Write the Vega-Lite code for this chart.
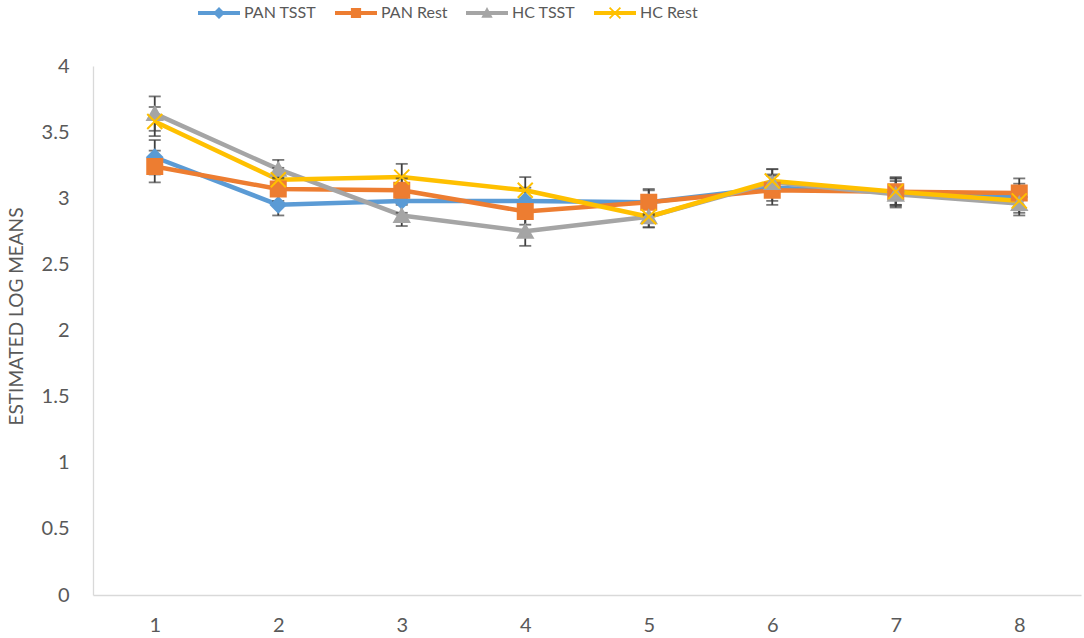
{
  "$schema": "https://vega.github.io/schema/vega-lite/v6.json",
  "width": 988,
  "height": 529,
  "autosize": {"type": "none"},
  "padding": {"left": 93, "top": 66, "right": 3, "bottom": 43},
  "background": "white",
  "config": {
    "view": {"stroke": null},
    "font": "Lato",
    "axis": {"labelFont": "Lato", "titleFont": "Lato", "labelColor": "#595959", "titleColor": "#595959"},
    "legend": {"labelFont": "Lato", "labelFontSize": 16, "labelColor": "#595959"}
  },
  "resolve": {"scale": {"shape": "independent", "color": "independent", "stroke": "independent"}},
  "data": {
    "values": [
      {"t": 1, "s": "PAN TSST", "v": 3.31, "e": 0.13},
      {"t": 2, "s": "PAN TSST", "v": 2.95, "e": 0.08},
      {"t": 3, "s": "PAN TSST", "v": 2.98, "e": 0.09},
      {"t": 4, "s": "PAN TSST", "v": 2.98, "e": 0.10},
      {"t": 5, "s": "PAN TSST", "v": 2.97, "e": 0.09},
      {"t": 6, "s": "PAN TSST", "v": 3.08, "e": 0.10},
      {"t": 7, "s": "PAN TSST", "v": 3.05, "e": 0.10},
      {"t": 8, "s": "PAN TSST", "v": 3.01, "e": 0.10},
      {"t": 1, "s": "PAN Rest", "v": 3.24, "e": 0.12},
      {"t": 2, "s": "PAN Rest", "v": 3.07, "e": 0.09},
      {"t": 3, "s": "PAN Rest", "v": 3.06, "e": 0.09},
      {"t": 4, "s": "PAN Rest", "v": 2.90, "e": 0.10},
      {"t": 5, "s": "PAN Rest", "v": 2.97, "e": 0.10},
      {"t": 6, "s": "PAN Rest", "v": 3.06, "e": 0.11},
      {"t": 7, "s": "PAN Rest", "v": 3.05, "e": 0.11},
      {"t": 8, "s": "PAN Rest", "v": 3.04, "e": 0.11},
      {"t": 1, "s": "HC TSST", "v": 3.64, "e": 0.13},
      {"t": 2, "s": "HC TSST", "v": 3.22, "e": 0.07},
      {"t": 3, "s": "HC TSST", "v": 2.87, "e": 0.08},
      {"t": 4, "s": "HC TSST", "v": 2.75, "e": 0.11},
      {"t": 5, "s": "HC TSST", "v": 2.86, "e": 0.08},
      {"t": 6, "s": "HC TSST", "v": 3.12, "e": 0.10},
      {"t": 7, "s": "HC TSST", "v": 3.03, "e": 0.10},
      {"t": 8, "s": "HC TSST", "v": 2.96, "e": 0.09},
      {"t": 1, "s": "HC Rest", "v": 3.58, "e": 0.11},
      {"t": 2, "s": "HC Rest", "v": 3.14, "e": 0.09},
      {"t": 3, "s": "HC Rest", "v": 3.16, "e": 0.10},
      {"t": 4, "s": "HC Rest", "v": 3.06, "e": 0.10},
      {"t": 5, "s": "HC Rest", "v": 2.86, "e": 0.08},
      {"t": 6, "s": "HC Rest", "v": 3.13, "e": 0.09},
      {"t": 7, "s": "HC Rest", "v": 3.05, "e": 0.10},
      {"t": 8, "s": "HC Rest", "v": 2.98, "e": 0.09}
    ]
  },
  "layer": [
    {
      "mark": {"type": "line", "strokeWidth": 4.5, "strokeJoin": "round", "strokeCap": "butt"},
      "encoding": {
        "x": {
          "field": "t", "type": "ordinal", "title": null,
          "scale": {"type": "point", "padding": 0.5},
          "axis": {"title": null, "labelAngle": 0, "labelFontSize": 20, "labelPadding": 20, "ticks": false, "domainColor": "#d9d9d9", "domainWidth": 1.3, "grid": false}
        },
        "y": {
          "field": "v", "type": "quantitative", "title": "ESTIMATED LOG MEANS",
          "scale": {"domain": [0, 4], "nice": false, "zero": true},
          "axis": {"title": "ESTIMATED LOG MEANS", "titleFontSize": 19, "titleFontWeight": "normal", "titlePadding": 15, "titleY": 250, "values": [0, 0.5, 1, 1.5, 2, 2.5, 3, 3.5, 4], "format": "~g", "labelFontSize": 20, "labelPadding": 24, "ticks": false, "grid": false, "domainColor": "#d9d9d9", "domainWidth": 1.3}
        },
        "color": {
          "field": "s", "type": "nominal",
          "scale": {"domain": ["PAN TSST", "PAN Rest", "HC TSST", "HC Rest"], "range": ["#5B9BD5", "#ED7D31", "#A5A5A5", "#FFC000"]},
          "legend": null
        }
      }
    },
    {
      "mark": {"type": "errorbar", "ticks": {"size": 12}, "color": "#404040", "thickness": 1.8},
      "encoding": {
        "x": {"field": "t", "type": "ordinal", "title": null},
        "y": {"field": "v", "type": "quantitative", "title": "ESTIMATED LOG MEANS"},
        "yError": {"field": "e"},
        "detail": {"field": "s", "type": "nominal"}
      }
    },
    {
      "mark": {"type": "point", "filled": true, "opacity": 1, "size": 225, "strokeWidth": 2},
      "encoding": {
        "x": {"field": "t", "type": "ordinal", "title": null},
        "y": {"field": "v", "type": "quantitative", "title": "ESTIMATED LOG MEANS"},
        "color": {
          "field": "s", "type": "nominal",
          "scale": {"domain": ["PAN TSST", "PAN Rest", "HC TSST", "HC Rest"], "range": ["#5B9BD5", "#ED7D31", "#A5A5A5", "#FFC000"]},
          "legend": null
        },
        "stroke": {
          "field": "s", "type": "nominal",
          "scale": {"domain": ["PAN TSST", "PAN Rest", "HC TSST", "HC Rest"], "range": ["#5B9BD5", "#ED7D31", "#A5A5A5", "#FFC000"]},
          "legend": null
        },
        "shape": {
          "field": "s", "type": "nominal",
          "scale": {"domain": ["PAN TSST", "PAN Rest", "HC TSST", "HC Rest"], "range": ["diamond", "square", "triangle-up", "M-1,-1L1,1M-1,1L1,-1"]},
          "legend": null
        }
      }
    },
    {
      "mark": {"type": "point", "filled": true, "opacity": 0, "size": 144},
      "encoding": {
        "x": {"field": "t", "type": "ordinal", "title": null},
        "y": {"field": "v", "type": "quantitative", "title": "ESTIMATED LOG MEANS"},
        "color": {
          "field": "s", "type": "nominal",
          "scale": {"domain": ["PAN TSST", "PAN Rest", "HC TSST", "HC Rest"], "range": ["#5B9BD5", "#ED7D31", "#A5A5A5", "#FFC000"]},
          "legend": {
            "title": null, "orient": "none", "direction": "horizontal",
            "legendX": 103, "legendY": -61, "padding": 0,
            "symbolSize": 144, "symbolOffset": 15, "labelOffset": 17, "columnPadding": 16,
            "symbolStrokeWidth": 0, "symbolOpacity": 1
          }
        },
        "shape": {
          "field": "s", "type": "nominal",
          "scale": {"domain": ["PAN TSST", "PAN Rest", "HC TSST", "HC Rest"], "range": [
            "M-3.5,-0.33L3.5,-0.33L3.5,0.33L-3.5,0.33Z M0,-1L1,0L0,1L-1,0Z",
            "M-3.5,-0.33L3.5,-0.33L3.5,0.33L-3.5,0.33Z M-0.85,-0.85L0.85,-0.85L0.85,0.85L-0.85,0.85Z",
            "M-3.5,-0.33L3.5,-0.33L3.5,0.33L-3.5,0.33Z M0,-1L0.95,0.8L-0.95,0.8Z",
            "M-3.5,-0.33L3.5,-0.33L3.5,0.33L-3.5,0.33Z M-0.794,-1.006L1.006,0.794L0.794,1.006L-1.006,-0.794Z M-1.006,0.794L0.794,-1.006L1.006,-0.794L-0.794,1.006Z"
          ]},
          "legend": {
            "title": null, "orient": "none", "direction": "horizontal",
            "legendX": 103, "legendY": -61, "padding": 0,
            "symbolSize": 144, "symbolOffset": 15, "labelOffset": 17, "columnPadding": 16,
            "symbolStrokeWidth": 0, "symbolOpacity": 1
          }
        }
      }
    }
  ]
}
